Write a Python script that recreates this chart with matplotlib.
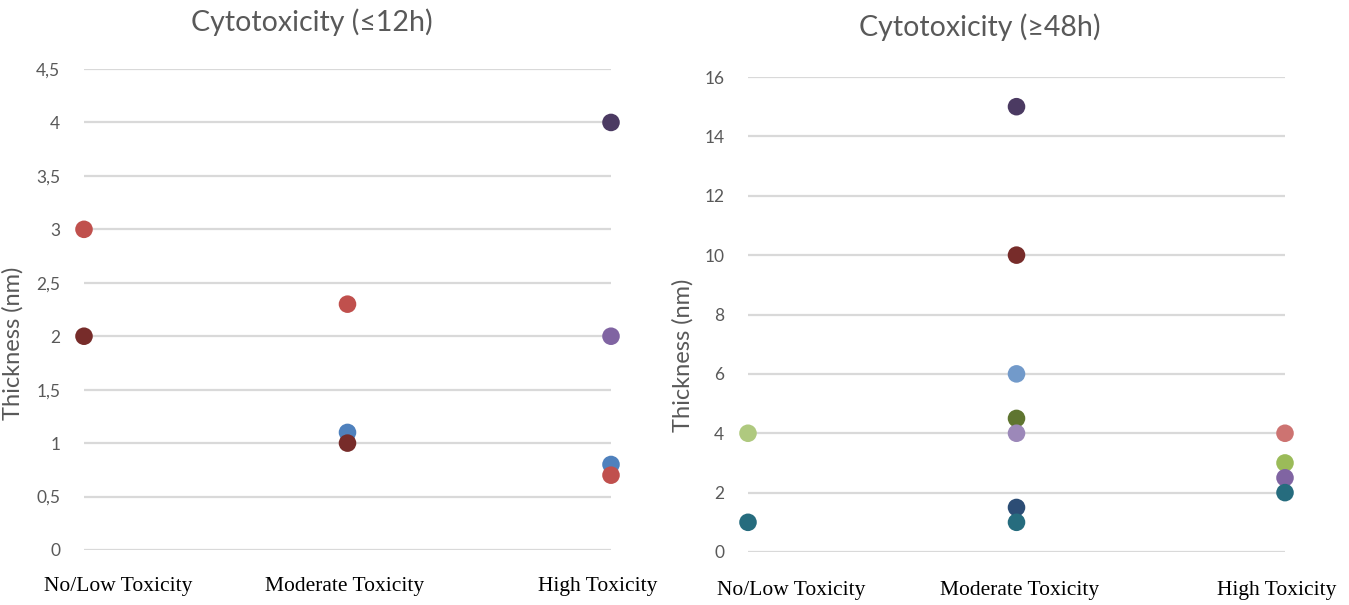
import matplotlib
matplotlib.use("Agg")
import matplotlib.pyplot as plt
from matplotlib.ticker import FuncFormatter, MultipleLocator

# categories (x positions 0, 1, 2)
categories = ["No/Low Toxicity", "Moderate Toxicity", "High Toxicity"]

# left chart: cytotoxicity <=12h
short_cat = [0, 0, 1, 1, 1, 2, 2, 2, 2]
short_val = [3.0, 2.0, 2.3, 1.1, 1.0, 4.0, 2.0, 0.8, 0.7]
short_col = ["#C0504D", "#772C2A", "#C0504D", "#4F81BD", "#772C2A",
             "#4B3A62", "#8064A2", "#4F81BD", "#C0504D"]

# right chart: cytotoxicity >=48h
long_cat = [0, 0, 1, 1, 1, 1, 1, 1, 1, 2, 2, 2, 2]
long_val = [4.0, 1.0, 15.0, 10.0, 6.0, 4.5, 4.0, 1.5, 1.0, 4.0, 3.0, 2.5, 2.0]
long_col = ["#AFC97F", "#266C7E", "#4B3A62", "#772C2A", "#729ACA", "#5F7530",
            "#9C88B9", "#2C4D75", "#266C7E", "#CD7371", "#9BBB59", "#8064A2",
            "#266C7E"]

W, H = 1349, 605
fig = plt.figure(figsize=(W / 100, H / 100), dpi=100)

grey = "#595959"
sans = ["Lato", "DejaVu Sans"]
serif = "Liberation Serif"


def px_axes(x0, x1, y_bottom, y_top):
    return fig.add_axes([x0 / W, (H - y_bottom) / H, (x1 - x0) / W, (y_bottom - y_top) / H])


def draw(ax, cats, vals, cols, ymax, step, title, label_x, label_dy, title_x, title_dy, ylab_xy):
    ax.scatter(cats, vals, c=cols, s=160, zorder=3, clip_on=False, linewidths=0)
    ax.set_xlim(0, 2)
    ax.set_ylim(0, ymax)
    ax.yaxis.set_major_locator(MultipleLocator(step))
    ax.yaxis.set_major_formatter(FuncFormatter(lambda v, p: ("%g" % v).replace(".", ",")))
    ax.grid(axis="y", color="#D9D9D9", linewidth=1.6)
    ax.set_axisbelow(True)
    for s in ax.spines.values():
        s.set_visible(False)
    ax.tick_params(axis="y", length=0, pad=17, labelcolor=grey, labelsize=12.5)
    for t in ax.get_yticklabels():
        t.set_fontfamily(sans)
    ax.set_xticks([])
    for name, lx in zip(categories, label_x):
        ax.text(lx, -label_dy, name, transform=ax.get_xaxis_transform(),
                ha="center", va="center", fontsize=15.5, family=serif, color="black")
    ax.text(title_x, 1 + title_dy, title, transform=ax.transAxes, ha="center", va="center",
            fontsize=20.5, color=grey, family=sans)
    ax.set_ylabel("Thickness (nm)", fontsize=17, color=grey, family=sans)
    ax.yaxis.set_label_coords(*ylab_xy)


ax1 = px_axes(84, 611, 550, 69)
draw(ax1, short_cat, short_val, short_col, 4.5, 0.5, "Cytotoxicity (\u226412h)",
     [0.13, 0.99, 1.95], 0.075, 0.433, 0.098, (-0.115, 0.43))

ax2 = px_axes(748, 1285, 552, 77)
draw(ax2, long_cat, long_val, long_col, 16, 2, "Cytotoxicity (\u226548h)",
     [0.16, 1.01, 1.97], 0.082, 0.432, 0.105, (-0.102, 0.415))

fig.savefig("out.png", dpi=100, facecolor="white")
